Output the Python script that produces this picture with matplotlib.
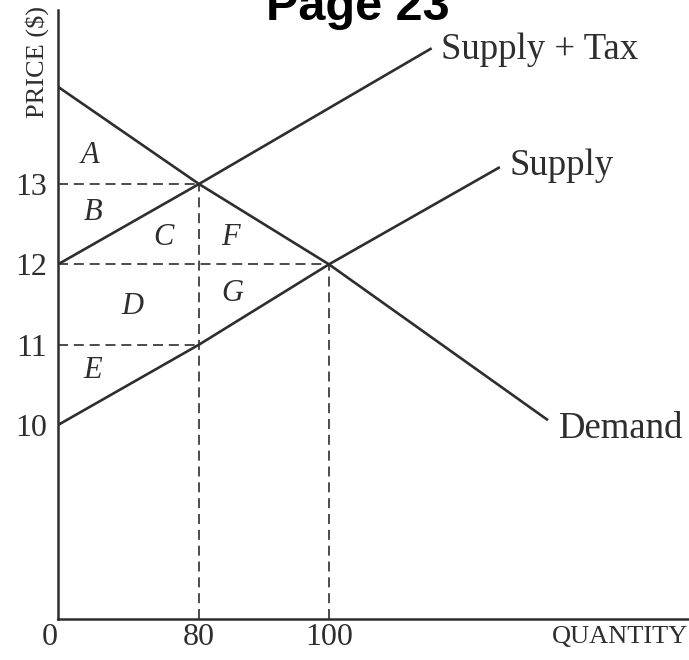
import numpy as np
import matplotlib.pyplot as plt

# prices ($) and quantities
price_ticks = [10, 11, 12, 13]
qty_ticks = [80, 100]

demand_q = [0, 80, 100, 133.7]
demand_p = [14.21, 13, 12, 10.06]

supply_q = [0, 80, 100, 126.3]
supply_p = [10, 11, 12, 13.21]

tax_q = [0, 80, 115.8]
tax_p = [12, 13, 14.69]

# area letters: (label, quantity, price)
areas = [("A", 18.2, 13.36), ("B", 19.9, 12.65), ("C", 59.6, 12.33),
         ("F", 84.8, 12.33), ("D", 42.0, 11.47), ("G", 85.2, 11.64),
         ("E", 19.9, 10.68)]

# the quantity axis is drawn out of proportion: 0-80 is squeezed
q_knots = np.array([-1000.0, 0.0, 80.0, 100.0, 1000.0])
t_knots = np.array([-1000 * 141 / 80, 0.0, 141.0, 271.0, 271.0 + 900 * 6.5])


def q_forward(q):
    return np.interp(q, q_knots, t_knots)


def q_inverse(t):
    return np.interp(t, t_knots, q_knots)


serif = "Liberation Serif"
ink = "#2e2e2e"

fig = plt.figure(figsize=(6.89, 6.60), dpi=100)
ax = fig.add_axes([58 / 689, 41 / 660, 631 / 689, 609 / 660])
ax.set_xscale("function", functions=(q_forward, q_inverse))
ax.set_xlim(0, 155.4)
ax.set_ylim(7.585, 15.166)

for side in ["top", "right"]:
    ax.spines[side].set_visible(False)
for side in ["left", "bottom"]:
    ax.spines[side].set_linewidth(1.8)
    ax.spines[side].set_color(ink)

lw = 1.9
ax.plot(demand_q, demand_p, color=ink, lw=lw, solid_capstyle="butt")
ax.plot(supply_q, supply_p, color=ink, lw=lw, solid_capstyle="butt")
ax.plot(tax_q, tax_p, color=ink, lw=lw, solid_capstyle="butt")

# dashed guides
dash = dict(color=ink, lw=1.2, dashes=(6, 3.5))
ax.plot([0, 80], [13, 13], **dash)
ax.plot([0, 100], [12, 12], **dash)
ax.plot([0, 80], [11, 11], **dash)
ax.plot([80, 80], [7.585, 13], **dash)
ax.plot([100, 100], [7.585, 12], **dash)

for name, q, p in areas:
    ax.text(q, p, name, fontsize=22, family=serif, style="italic",
            color=ink, ha="center", va="center")

# curve names at the line ends
ax.annotate("Supply + Tax", xy=(tax_q[-1], tax_p[-1]), xytext=(7, -1),
            textcoords="offset points", ha="left", va="center",
            fontsize=26.5, family=serif, color=ink)
ax.annotate("Supply", xy=(supply_q[-1], supply_p[-1]), xytext=(7, 1),
            textcoords="offset points", ha="left", va="center",
            fontsize=26.5, family=serif, color=ink)
ax.annotate("Demand", xy=(demand_q[-1], demand_p[-1]), xytext=(8, -6.5),
            textcoords="offset points", ha="left", va="center",
            fontsize=26.5, family=serif, color=ink)

ax.set_yticks(price_ticks)
ax.set_yticklabels([str(v) for v in price_ticks])
ax.set_xticks(qty_ticks)
ax.set_xticklabels([str(v) for v in qty_ticks])
ax.tick_params(length=0, labelsize=23, labelcolor=ink)
ax.tick_params(axis="y", pad=8)
ax.tick_params(axis="x", pad=3)
for lab in ax.get_xticklabels() + ax.get_yticklabels():
    lab.set_family(serif)

ax.annotate("0", xy=(0, 0), xycoords=("data", "axes fraction"),
            xytext=(-6, -3), textcoords="offset points", ha="center", va="top",
            fontsize=23, family=serif, color=ink)

fig.text(37 / 689, 1 - 62 / 660, "PRICE ($)", rotation=90, ha="center",
         va="center", fontsize=19, family=serif, color=ink)
fig.text(688 / 689, 1 - 637 / 660, "QUANTITY", ha="right", va="center",
         fontsize=19, family=serif, color=ink)

# page heading runs off the top edge
fig.text(358 / 689, 1 - 20 / 660, "Page 23", ha="center", va="baseline",
         fontsize=35, family="Liberation Sans", weight="bold", color="black")

fig.savefig("out.png", dpi=100)
